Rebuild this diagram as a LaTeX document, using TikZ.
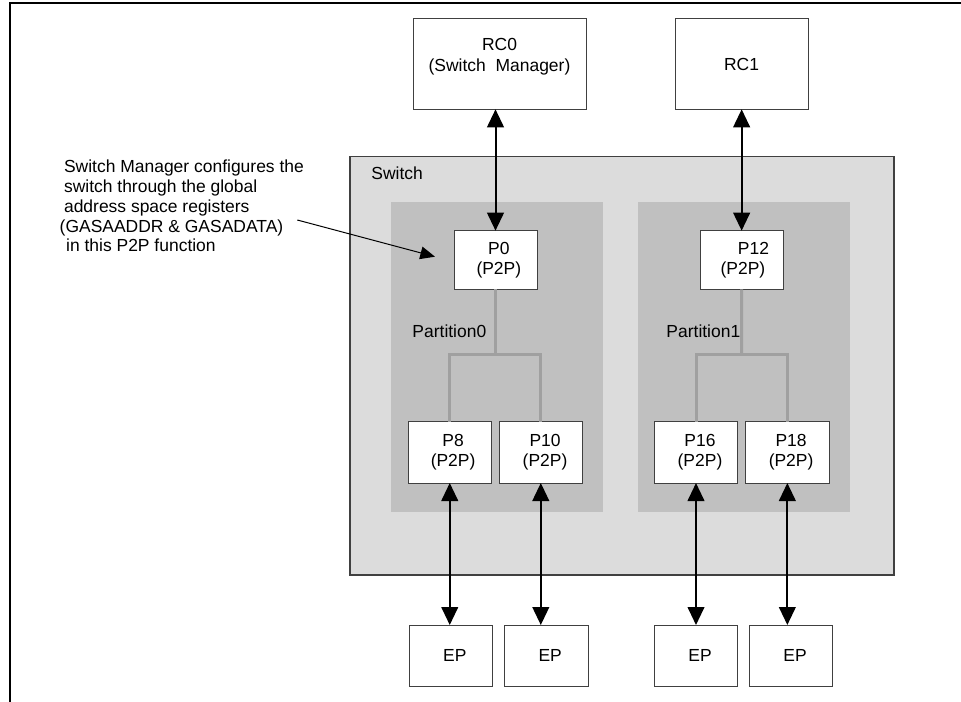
\documentclass[tikz,border=0pt]{standalone}
\usepackage{fontspec}
\setmainfont{Liberation Sans}
\usetikzlibrary{arrows.meta,fit}
\definecolor{swfill}{HTML}{DCDCDC}
\definecolor{ptfill}{HTML}{C0C0C0}
\definecolor{treegray}{HTML}{A0A0A0}
\definecolor{edgecol}{HTML}{404040}
\begin{document}
\begin{tikzpicture}[x=0.75pt,y=-0.75pt,
  every node/.style={font=\fontsize{13.1}{15.3}\selectfont},
  box/.style={draw=edgecol, line width=0.75pt, fill=white, inner sep=0pt, outer sep=0pt},
  area/.style={inner sep=0pt, outer sep=0pt},
  btext/.style={align=center, inner sep=0pt},
  plain/.style={inner sep=0pt},
  link/.style={line width=1.5pt, {Triangle[length=13.5pt,width=12.5pt]}-{Triangle[length=13.5pt,width=12.5pt]}},
  tree/.style={draw=treegray, line width=2.25pt},
]
\useasboundingbox (0,0) rectangle (961,702);
% frame
\coordinate (fb) at (9.7,702);
\coordinate (fc) at (9.7,3);
\coordinate (fr) at (961,3);
\draw[line width=1.6pt] (fb) -- (fc) -- (fr);

% switch and partitions
\node[area, fit={(350,156.7) (894,575)}, draw=edgecol, line width=1.1pt, fill=swfill] (sw) {};
\node[plain, anchor=west] (swl) at (371.2,173.3) {Switch};
\node[area, fit={(391,201.7) (603.3,512)}, fill=ptfill] (pt0) {};
\node[area, fit={(638,201.7) (850,512)}, fill=ptfill] (pt1) {};
\node[plain, anchor=west] (pt0l) at (412.2,331.7) {Partition0};
\node[plain, anchor=west] (pt1l) at (666.2,331.7) {Partition1};

% root complexes
\node[box, fit={(413,18.3) (586,109.3)}] (rc0) {};
\node[box, fit={(675,18.3) (808,109.3)}] (rc1) {};
\node[btext] (rc0t) at ([yshift=5.3pt]rc0.center) {RC0\\(Switch\ \ Manager)};
\node[btext] (rc1t) at ([yshift=-0.8pt]rc1.center) {RC1};

% switch ports
\node[box, fit={(454,230.7) (537,289.3)}] (p0) {};
\node[box, fit={(700,230.7) (783.3,289.3)}] (p12) {};
\node[box, fit={(408,421.7) (491.5,483)}] (p8) {};
\node[box, fit={(499.3,421.7) (582.3,483)}] (p10) {};
\node[box, fit={(654.3,421.7) (737.7,483)}] (p16) {};
\node[box, fit={(745.7,421.7) (829,483)}] (p18) {};
\node[btext] (p0t) at ([xshift=2.5pt]p0.center) {P0\\(P2P)};
\node[btext] (p12t) at ([xshift=1pt]p12.center) {\hspace*{1.2em}P12\\(P2P)};
\node[btext] (p8t) at ([xshift=2.5pt]p8.center) {P8\\(P2P)};
\node[btext] (p10t) at ([xshift=3.2pt]p10.center) {P10\\(P2P)};
\node[btext] (p16t) at ([xshift=3pt]p16.center) {P16\\(P2P)};
\node[btext] (p18t) at ([xshift=2.8pt]p18.center) {P18\\(P2P)};

% tree lines
\coordinate (j0) at (495.5,354.3);
\coordinate (j1) at (741.7,354.3);
\draw[tree] (p0.south) -- (j0);
\draw[tree] (p8.north) |- (j0) -| (p10.north);
\draw[tree] (p12.south) -- (j1);
\draw[tree] (p16.north) |- (j1) -| (p18.north);

% endpoints
\node[box, fit={(409.3,625) (492.3,686.7)}] (ep1) {};
\node[box, fit={(504.3,625) (588,686.7)}] (ep2) {};
\node[box, fit={(654.3,625) (737.7,686.7)}] (ep3) {};
\node[box, fit={(749.3,625) (832.7,686.7)}] (ep4) {};
\node[btext] (ep1t) at ([xshift=3pt]ep1.center) {EP};
\node[btext] (ep2t) at ([xshift=3pt]ep2.center) {EP};
\node[btext] (ep3t) at ([xshift=3pt]ep3.center) {EP};
\node[btext] (ep4t) at ([xshift=3pt]ep4.center) {EP};

% links
\draw[link] (p0.north) -- (p0.north |- rc0.south);
\draw[link] (p12.north) -- (p12.north |- rc1.south);
\draw[link] (p8.south) -- (p8.south |- ep1.north);
\draw[link] (p10.south) -- (p10.south |- ep2.north);
\draw[link] (p16.south) -- (p16.south |- ep3.north);
\draw[link] (p18.south) -- (p18.south |- ep4.north);

% annotation
\node[plain, anchor=west, align=left, font=\fontsize{13.1}{14.85}\selectfont] (anno) at (63.8,206)
  {Switch Manager configures the\\switch through the global\\address space registers\\\hspace*{-0.25em}(GASAADDR \& GASADATA)\\\hspace*{0.12em}in this P2P function};
\coordinate (annS) at (297.3,220);
\coordinate (annE) at (435,256.7);
\draw[line width=0.75pt, -{Triangle[length=11pt,width=9.5pt]}] (annS) -- (annE);
\end{tikzpicture}
\end{document}
